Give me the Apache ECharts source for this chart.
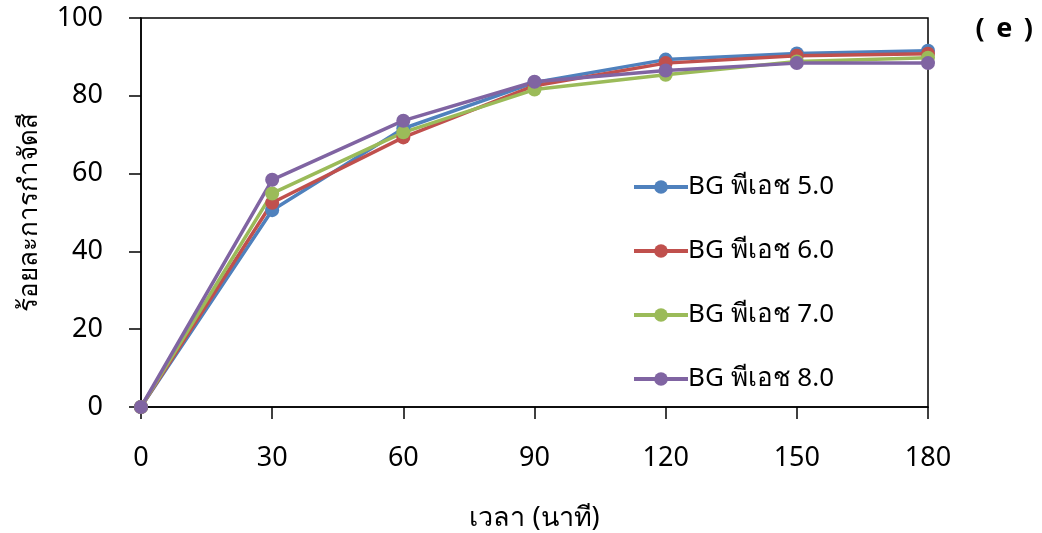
<!DOCTYPE html>
<html>
<head>
<meta charset="utf-8">
<script src="https://cdn.jsdelivr.net/npm/echarts@6/dist/echarts.min.js"></script>
<style>
  html, body { margin: 0; padding: 0; background: #fff; }
  #chart { width: 1042px; height: 533px; }
</style>
</head>
<body>
<div id="chart"></div>
<script>
// เวลา (นาที)
const times = [0, 30, 60, 90, 120, 150, 180]
const seriesNames = ['BG พีเอช 5.0', 'BG พีเอช 6.0', 'BG พีเอช 7.0', 'BG พีเอช 8.0']
const ph50 = [0, 50.6, 71.6, 83.4, 89.3, 90.9, 91.6]
const ph60 = [0, 52.5, 69.3, 82.6, 88.4, 90.3, 90.8]
const ph70 = [0, 54.9, 70.6, 81.6, 85.4, 88.8, 89.8]
const ph80 = [0, 58.4, 73.6, 83.6, 86.5, 88.4, 88.4]
const colors = ['#4F81BD', '#C0504D', '#9BBB59', '#8064A2']

const font = '"Noto Sans", sans-serif'
const chart = echarts.init(document.getElementById('chart'))

const makeSeries = (name, values) => ({
  name: name,
  type: 'line',
  data: times.map((t, i) => [t, values[i]]),
  symbol: 'circle',
  symbolSize: 14,
  lineStyle: { width: 3.5 },
  animation: false
})

chart.setOption({
  color: colors,
  grid: {
    left: 141, right: 114, top: 18, bottom: 126,
    outerBoundsMode: 'none',
    show: true, borderColor: '#000', borderWidth: 1.5
  },
  legend: {
    orient: 'vertical',
    left: 627,
    top: 169,
    itemWidth: 54,
    itemHeight: 17,
    itemGap: 38,
    lineStyle: { width: 4 },
    textStyle: { fontFamily: font, fontSize: 26, color: '#000', padding: [0, 0, 0, -5] },
    data: seriesNames
  },
  title: {
    text: '(\u2009 e \u2009)',
    right: 4,
    top: 11,
    textStyle: { fontFamily: font, fontSize: 27, fontWeight: 'bold', color: '#000' }
  },
  xAxis: {
    type: 'value',
    min: 0,
    max: 180,
    interval: 30,
    name: 'เวลา (นาที)',
    nameLocation: 'middle',
    nameGap: 98,
    nameTextStyle: { fontFamily: font, fontSize: 27, color: '#000' },
    axisLine: { lineStyle: { color: '#000', width: 1.5 } },
    axisTick: { show: true, length: 12, lineStyle: { color: '#000', width: 1.5 } },
    axisLabel: { margin: 38, fontFamily: font, fontSize: 27, color: '#000' },
    splitLine: { show: false }
  },
  yAxis: {
    type: 'value',
    min: 0,
    max: 100,
    interval: 20,
    name: 'ร้อยละการกำจัดสี',
    nameLocation: 'middle',
    nameGap: 98,
    nameRotate: 90,
    nameTextStyle: { fontFamily: font, fontSize: 26, color: '#000' },
    axisLine: { show: true, lineStyle: { color: '#000', width: 1.5 } },
    axisTick: { show: true, length: 12, lineStyle: { color: '#000', width: 1.5 } },
    axisLabel: { margin: 38, fontFamily: font, fontSize: 27, color: '#000' },
    splitLine: { show: false }
  },
  series: [
    makeSeries(seriesNames[0], ph50),
    makeSeries(seriesNames[1], ph60),
    makeSeries(seriesNames[2], ph70),
    makeSeries(seriesNames[3], ph80)
  ]
})
</script>
</body>
</html>
